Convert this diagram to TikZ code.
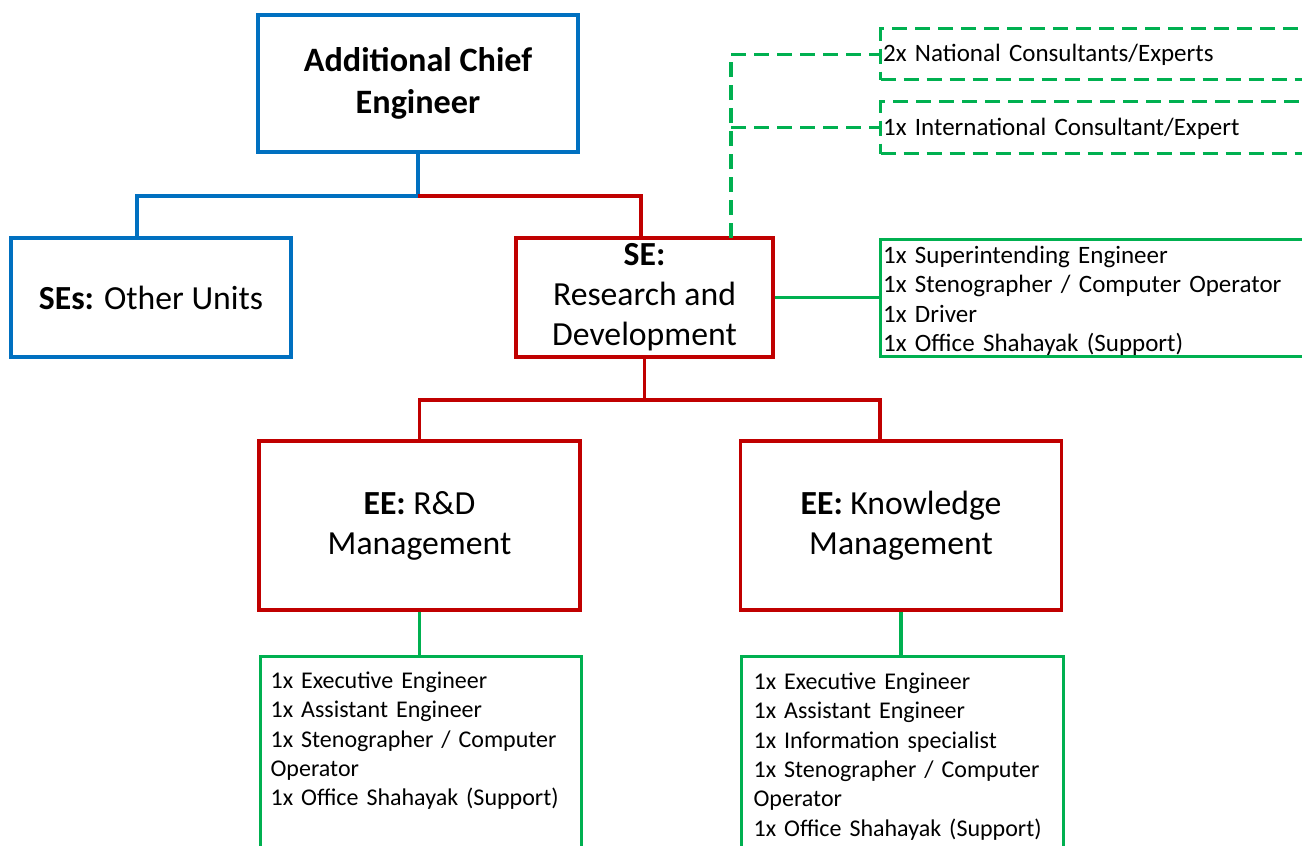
\documentclass[tikz,border=0pt]{standalone}
\usepackage{fontspec}
\setmainfont{Carlito}
\definecolor{orgblue}{HTML}{0070C0}
\definecolor{orgred}{HTML}{C00000}
\definecolor{orggreen}{HTML}{00B050}

\begin{document}
\begin{tikzpicture}[x=1pt,y=-1pt]
  \tikzstyle{unitbox}=[draw, line width=3.2pt, inner sep=0pt, align=center, font=\fontsize{33.7}{40}\selectfont]
  \tikzstyle{bluebox}=[unitbox, draw=orgblue]
  \tikzstyle{redbox}=[unitbox, draw=orgred]
  \tikzstyle{staffbox}=[draw=orggreen, line width=3.2pt, anchor=north west, align=left, inner ysep=0pt, inner xsep=2.5pt, font=\fontsize{25}{29.3}\selectfont]
  \tikzstyle{consbox}=[staffbox, dash pattern=on 15pt off 8pt]
  \tikzstyle{blueline}=[draw=orgblue, line width=3.2pt]
  \tikzstyle{redline}=[draw=orgred, line width=3.2pt]
  \tikzstyle{greenline}=[draw=orggreen, line width=3.2pt]
  \tikzstyle{dashline}=[greenline, dash pattern=on 15pt off 8pt]

  \useasboundingbox (0,0) rectangle (1302,846);
  \clip (0,0) rectangle (1302,846);

  % management levels
  \node[bluebox, minimum width=320pt, minimum height=137pt, font=\fontsize{34.2}{42}\selectfont] (ace) at (418,83.5) {\textbf{Additional Chief}\\\textbf{Engineer}};
  \node[bluebox, minimum width=280pt, minimum height=119pt] (others) at (151,297.5) {\textbf{SEs:} Other Units};
  \node[redbox, minimum width=257pt, minimum height=119pt] (serd) at (644.5,297.5) {\textbf{SE:}\\Research and\\Development};
  \node[redbox, minimum width=321pt, minimum height=169pt] (eerd) at (419.5,525.5) {\textbf{EE:} R\&D\\Management};
  \node[redbox, minimum width=321pt, minimum height=169pt] (eekm) at (901,525.5) {\textbf{EE:} Knowledge\\Management};

  % staff lists
  \node[consbox, text width=500pt, text height=33pt, text depth=18pt] (natcons) at (879,27) {2x National Consultants/Experts};
  \node[consbox, text width=500pt, text height=34pt, text depth=18pt] (intcons) at (879,100) {1x International Consultant/Expert};
  \node[staffbox, text width=500pt, text height=24pt, text depth=93pt] (sestaff) at (879,238)
    {1x Superintending Engineer\\1x Stenographer / Computer Operator\\1x Driver\\1x Office Shahayak (Support)};
  \node[staffbox, inner xsep=10pt, text width=301pt, text height=32pt, text depth=200pt, font=\fontsize{24}{29.3}\selectfont] (rdstaff) at (259,655)
    {1x Executive Engineer\\1x Assistant Engineer\\1x Stenographer / Computer\\Operator\\1x Office Shahayak (Support)};
  \node[staffbox, inner xsep=12pt, text width=298pt, text height=33pt, text depth=200pt, font=\fontsize{24}{29.3}\selectfont] (kmstaff) at (740,655)
    {1x Executive Engineer\\1x Assistant Engineer\\1x Information specialist\\1x Stenographer / Computer\\Operator\\1x Office Shahayak (Support)};

  % connectors
  \coordinate (acesplit) at (418,196);
  \coordinate (sesplit) at (644.5,400);
  \coordinate (dashfoot) at (731,238);
  \draw[blueline] (ace.south) -- (acesplit) -| ([xshift=-14pt]others.north);
  \draw[redline] (acesplit) -| ([xshift=-3.5pt]serd.north);
  \draw[redline] (serd.south) -- (sesplit) -| (eerd.north);
  \draw[redline] (sesplit) -| ([xshift=-21pt]eekm.north);
  \draw[greenline] (serd.east) -- (serd.east -| sestaff.west);
  \draw[greenline] (eerd.south) -- (eerd.south |- rdstaff.north);
  \draw[greenline] (eekm.south) -- (eekm.south |- kmstaff.north);
  \draw[dashline] (dashfoot) |- (natcons.west);
  \draw[dashline] (dashfoot |- intcons.west) -- (intcons.west);
\end{tikzpicture}
\end{document}
